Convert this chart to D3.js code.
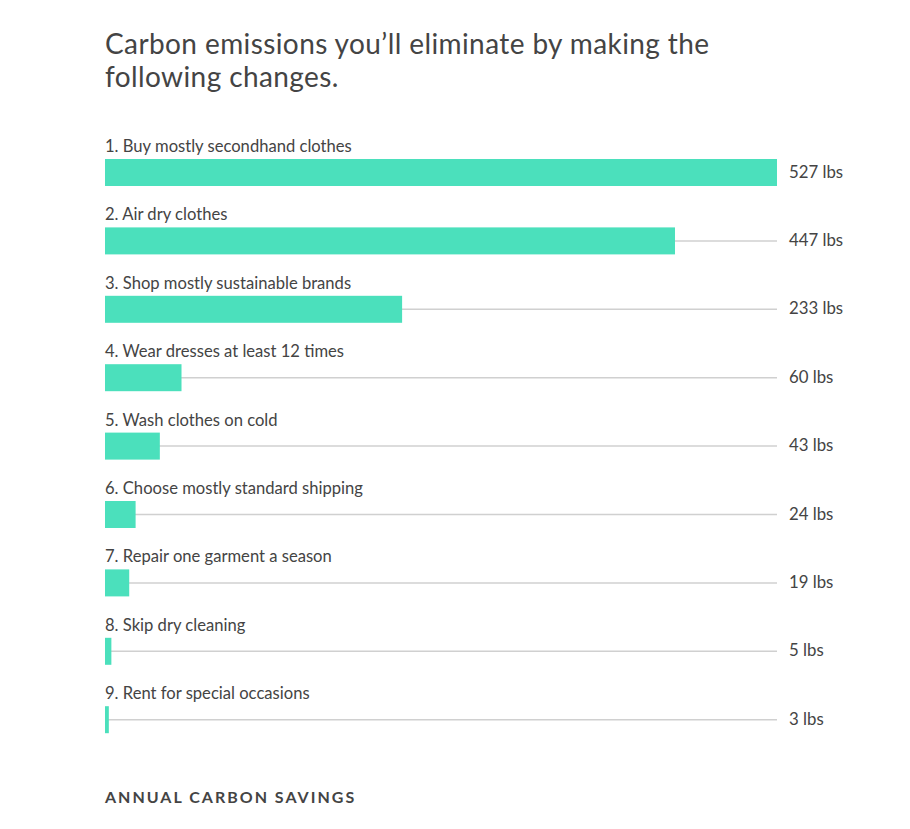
<!DOCTYPE html>
<html>
<head>
<meta charset="utf-8">
<script src="https://cdn.jsdelivr.net/npm/d3@7"></script>
<style>
  body { margin: 0; background: #fff; }
  text { font-family: Lato, "Open Sans", sans-serif; fill: #444; }
</style>
</head>
<body>
<script>
// Chart data
const labels = [
  "1. Buy mostly secondhand clothes",
  "2. Air dry clothes",
  "3. Shop mostly sustainable brands",
  "4. Wear dresses at least 12 times",
  "5. Wash clothes on cold",
  "6. Choose mostly standard shipping",
  "7. Repair one garment a season",
  "8. Skip dry cleaning",
  "9. Rent for special occasions"
];
const values = [527, 447, 233, 60, 43, 24, 19, 5, 3];
const unit = "lbs";

const width = 910, height = 829;
const left = 105, right = 777;

const svg = d3.select("body").append("svg")
    .attr("width", width)
    .attr("height", height);

// Title
const title = svg.append("text")
    .attr("x", left)
    .attr("y", 54)
    .style("font-size", "28px")
    .style("letter-spacing", "0.4px");
title.append("tspan").attr("x", left).text("Carbon emissions you\u2019ll eliminate by making the");
title.append("tspan").attr("x", left).attr("dy", 33).text("following changes.");

// Scales
const x = d3.scaleLinear()
    .domain([0, d3.max(values)])
    .range([left, right]);

const barH = 27;
const step = 68.4;

const y = d3.scaleBand()
    .domain(labels)
    .range([159, 159 + step * labels.length]);

const rows = svg.selectAll(".row")
    .data(labels.map((l, i) => ({ label: l, value: values[i] })))
    .enter().append("g")
    .attr("class", "row")
    .attr("transform", d => "translate(0," + y(d.label) + ")");

// track line
rows.append("line")
    .attr("x1", left)
    .attr("x2", right)
    .attr("y1", barH / 2)
    .attr("y2", barH / 2)
    .style("stroke", "#d0d0d0")
    .style("stroke-width", 1.5);

// bars
rows.append("rect")
    .attr("x", left)
    .attr("y", 0)
    .attr("width", d => x(d.value) - left)
    .attr("height", barH)
    .style("fill", "#4be0bc");

// labels
rows.append("text")
    .attr("x", left)
    .attr("y", -7)
    .style("font-size", "16.6px")
    .text(d => d.label);

// values
rows.append("text")
    .attr("x", right + 12)
    .attr("y", barH / 2 + 5)
    .style("font-size", "16.8px")
    .text(d => d.value + " " + unit);

// Footer
svg.append("text")
    .attr("x", left)
    .attr("y", 803)
    .style("font-size", "16px")
    .style("font-weight", "bold")
    .style("letter-spacing", "2px")
    .text("ANNUAL CARBON SAVINGS");
</script>
</body>
</html>
